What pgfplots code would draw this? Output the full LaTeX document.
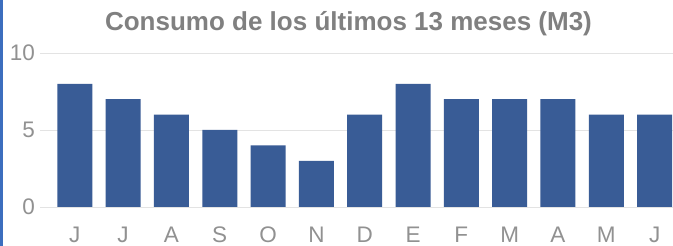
\documentclass[border=0pt]{standalone}
\usepackage{pgfplots}
\pgfplotsset{compat=1.18}
\usepackage{fontspec}
\setmainfont{Liberation Sans}
\definecolor{barblue}{RGB}{57,92,150}
\definecolor{txtgray}{RGB}{128,128,128}
\definecolor{ticgray}{RGB}{145,145,145}
\definecolor{edgeblue}{RGB}{60,110,190}
\begin{document}
\begin{tikzpicture}[x=1pt,y=1pt]
\path[use as bounding box] (0,0) rectangle (673,246);
\fill[white] (0,0) rectangle (673,246);
\begin{axis}[
 at={(40pt,39pt)}, anchor=south west,
 scale only axis, width=633pt, height=154pt,
 xmin=-0.72, xmax=12.38, ymin=0, ymax=10,
 ytick={0,5,10}, xtick={0,...,12},
 xticklabels={J,J,A,S,O,N,D,E,F,M,A,M,J},
 axis line style={draw=none}, major tick length=0pt,
 ymajorgrids, grid style={gray!22, line width=0.8pt},
 tick label style={font=\fontsize{22.5}{22.5}\selectfont, text=ticgray, inner sep=0pt},
 yticklabel style={xshift=-5pt},
 xticklabel style={yshift=-19.5pt},
 /pgf/number format/assume math mode=true,
 title={Consumo de los últimos 13 meses (M3)},
 title style={font=\fontsize{26}{26}\selectfont\bfseries, text=txtgray, anchor=south, inner sep=0pt, yshift=11pt, xshift=-8pt},
]
\addplot[ybar, bar width=35pt, fill=barblue, draw=none] coordinates {(0,8)(1,7)(2,6)(3,5)(4,4)(5,3)(6,6)(7,8)(8,7)(9,7)(10,7)(11,6)(12,6)};
\end{axis}
\fill[edgeblue] (0,0) rectangle (2.5,246);
\end{tikzpicture}
\end{document}
